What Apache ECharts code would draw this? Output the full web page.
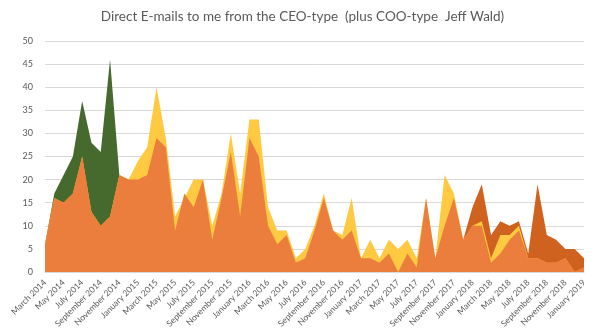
<!DOCTYPE html>
<html><head><meta charset="utf-8">
<script src="https://cdn.jsdelivr.net/npm/echarts@6/dist/echarts.min.js"></script>
<style>html,body{margin:0;padding:0;background:#fff}#c{width:605px;height:336px}</style>
</head><body><div id="c"></div>
<script>
var months = ["March 2014","April 2014","May 2014","June 2014","July 2014","August 2014","September 2014","October 2014","November 2014","December 2014",
"January 2015","February 2015","March 2015","April 2015","May 2015","June 2015","July 2015","August 2015","September 2015","October 2015","November 2015","December 2015",
"January 2016","February 2016","March 2016","April 2016","May 2016","June 2016","July 2016","August 2016","September 2016","October 2016","November 2016","December 2016",
"January 2017","February 2017","March 2017","April 2017","May 2017","June 2017","July 2017","August 2017","September 2017","October 2017","November 2017","December 2017",
"January 2018","February 2018","March 2018","April 2018","May 2018","June 2018","July 2018","August 2018","September 2018","October 2018","November 2018","December 2018",
"January 2019"];
var ceo = [6,16,15,17,25,13,10,12,21,20,20,21,29,27,9,17,14,20,7,16,26,12,29,25,10,6,8,2,3,9,16,9,7,9,3,3,2,4,0,4,1,16,3,10,16,7,10,10,2,4,7,9,3,3,2,2,3,0,1];
var yellowTotal = [6,16,15,17,25,13,10,12,21,20,24,27,40,29,12,16,20,20,10,17,30,17,33,33,14,9,9,3,5,10,17,9,8,16,3,7,3,7,5,7,3,16,3,21,17,7,10,11,3,8,8,10,3,3,2,2,3,0,1];
var greenTotal = [6,17,21,25,37,28,26,46,21,null,null,null,null,null,null,null,null,null,null,null,null,null,null,null,null,null,null,null,null,null,null,null,null,null,null,null,null,null,null,null,null,null,null,null,null,null,null,null,null,null,null,null,null,null,null,null,null,null,null];
var darkTotal = [null,null,null,null,null,null,null,null,null,null,null,null,null,null,null,null,null,null,null,null,null,null,null,null,null,null,null,null,null,null,null,null,null,null,null,null,null,null,null,null,null,null,null,null,null,7,14,19,8,11,10,11,4,19,8,7,5,5,3];
var yTicks = [0,5,10,15,20,25,30,35,40,45,50];

var font = "Lato, 'Open Sans', sans-serif";
function area(name, data, color){
  return {name:name, type:'line', data:data, symbol:'none', lineStyle:{width:0}, areaStyle:{color:color, opacity:1}, itemStyle:{color:color}, silent:true, animation:false};
}
var chart = echarts.init(document.getElementById('c'));
chart.setOption({
  animation:false,
  title:{text:'Direct E-mails to me from the CEO-type  (plus COO-type  Jeff Wald)', left:'center', top:5,
    textStyle:{fontFamily:font, fontSize:13.5, fontWeight:'normal', color:'#595959'}},
  grid:{left:45, right:21, top:41, bottom:64},
  xAxis:{type:'category', data:months, boundaryGap:false,
    axisLine:{lineStyle:{color:'#D9D9D9'}}, axisTick:{show:false},
    axisLabel:{interval:1, rotate:45, fontFamily:font, fontSize:8.5, color:'#595959', margin:9}},
  yAxis:{type:'value', min:yTicks[0], max:yTicks[yTicks.length-1], interval:5,
    axisLine:{show:false}, axisTick:{show:false},
    axisLabel:{fontFamily:font, fontSize:9, color:'#595959', margin:12},
    splitLine:{lineStyle:{color:'#D9D9D9'}}},
  series:[
    area('COO', greenTotal, '#466A2E'),
    area('2018', darkTotal, '#D0621F'),
    area('Other', yellowTotal, '#FFC941'),
    area('CEO', ceo, '#EB7E3C')
  ]
});
</script></body></html>
